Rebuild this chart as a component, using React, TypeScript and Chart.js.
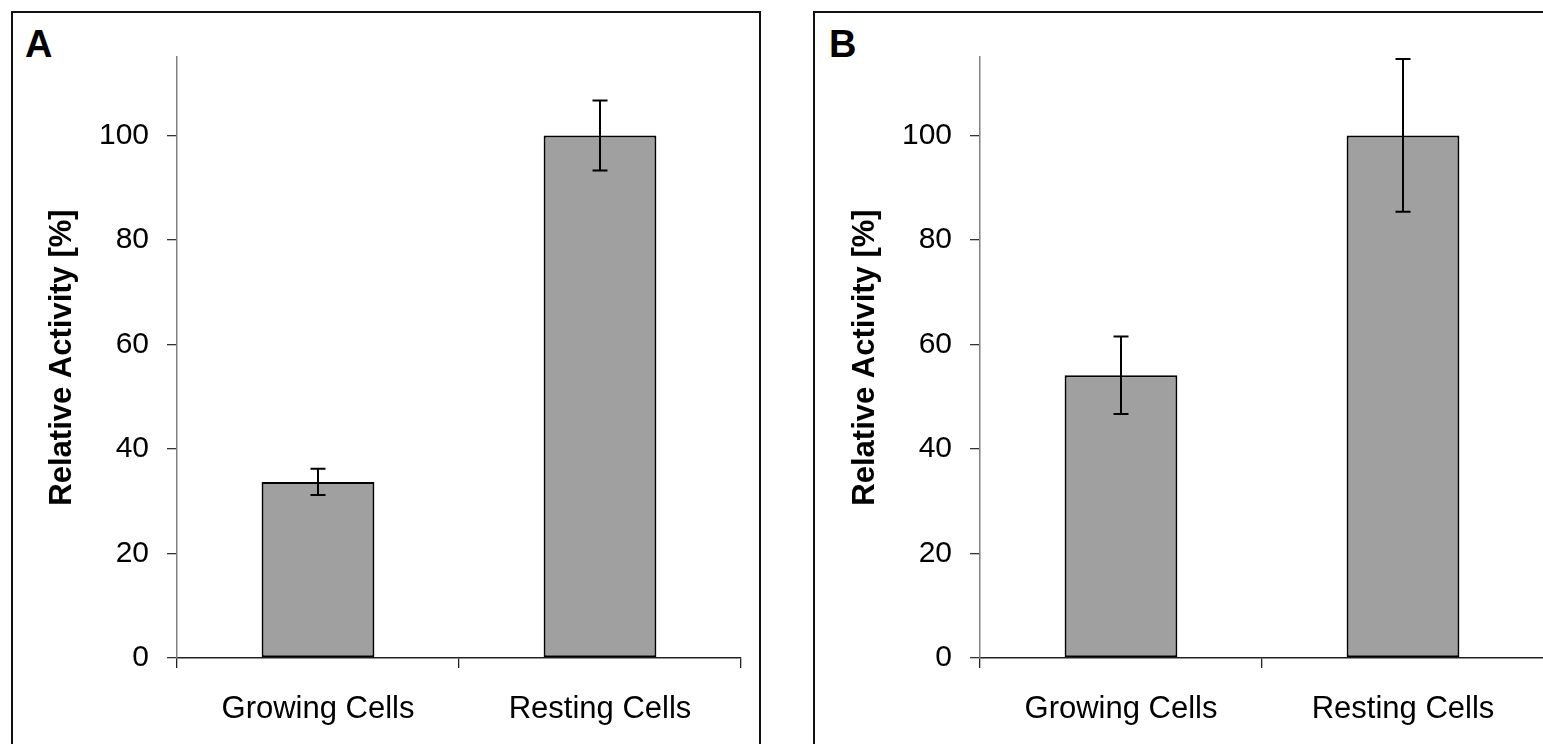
import React, { useEffect, useRef } from 'react';
import { Chart, registerables } from 'chart.js';

Chart.register(...registerables);

const categories = ['Growing Cells', 'Resting Cells'];
const activityA = [33.7, 100];
const errorA = [2.5, 6.7];
const activityB = [54.1, 100];
const errorB = [7.4, 14.6];
const yTickValues = [0, 20, 40, 60, 80, 100];
const yMax = 115;
const yTitle = 'Relative Activity [%]';

const FONT = '"Liberation Sans", Arial, Helvetica, sans-serif';

const errorBarPlugin = {
  id: 'errorBars',
  afterDatasetsDraw(chart: any, _args: any, opts: any) {
    const { ctx } = chart;
    const y = chart.scales.y;
    const meta = chart.getDatasetMeta(0);
    const data = chart.data.datasets[0].data as number[];
    const errs: number[] = opts.errors || [];
    ctx.save();
    ctx.strokeStyle = '#000';
    ctx.lineWidth = 2;
    meta.data.forEach((bar: any, i: number) => {
      const v = data[i];
      const e = errs[i];
      if (e == null) return;
      const x = bar.x;
      const top = y.getPixelForValue(v + e);
      const bot = y.getPixelForValue(v - e);
      ctx.beginPath();
      ctx.moveTo(x, top);
      ctx.lineTo(x, bot);
      ctx.moveTo(x - 7.5, top);
      ctx.lineTo(x + 7.5, top);
      ctx.moveTo(x - 7.5, bot);
      ctx.lineTo(x + 7.5, bot);
      ctx.stroke();
    });
    ctx.restore();
  },
};

const CW = 770;
const CH = 744;

function Panel({ left, values, errors }: { left: number; values: number[]; errors: number[] }) {
  const ref = useRef<HTMLCanvasElement | null>(null);
  useEffect(() => {
    if (!ref.current) return;
    const chart = new Chart(ref.current, {
      type: 'bar',
      data: {
        labels: categories,
        datasets: [
          {
            data: values,
            backgroundColor: '#a0a0a0',
            borderColor: '#000000',
            borderWidth: 2,
            borderSkipped: false,
            barPercentage: 0.4,
            categoryPercentage: 1,
          },
        ],
      },
      options: {
        responsive: false,
        animation: false,
        devicePixelRatio: 1,
        layout: { padding: { left: 0, top: 57, right: CW - 741, bottom: 0 } },
        plugins: {
          legend: { display: false },
          tooltip: { enabled: false },
          errorBars: { errors },
        } as any,
        scales: {
          x: {
            type: 'category',
            offset: true,
            afterFit: (s: any) => {
              s.height = CH - 658;
            },
            grid: {
              offset: true,
              drawOnChartArea: false,
              drawTicks: true,
              tickLength: 10,
              color: '#222222',
              lineWidth: 1.3,
            },
            border: { display: true, color: '#222222', width: 1.5 },
            ticks: {
              color: '#000000',
              padding: 23,
              maxRotation: 0,
              font: { family: FONT, size: 31 },
            },
          },
          y: {
            type: 'linear',
            min: 0,
            max: yMax,
            afterFit: (s: any) => {
              s.width = 177;
            },
            afterBuildTicks: (s: any) => {
              s.ticks = yTickValues.map((v) => ({ value: v }));
            },
            grid: {
              drawOnChartArea: false,
              drawTicks: true,
              tickLength: 10,
              color: '#333333',
              lineWidth: 1.3,
            },
            border: { display: true, color: '#808080', width: 1.5 },
            ticks: {
              color: '#000000',
              padding: 18,
              font: { family: FONT, size: 30 },
            },
            title: {
              display: true,
              text: yTitle,
              color: '#000000',
              font: { family: FONT, size: 31, weight: 'bold' },
              padding: { top: 44, bottom: 0 },
            },
          },
        },
      } as any,
      plugins: [errorBarPlugin as any],
    });
    return () => chart.destroy();
  }, []);
  return (
    <canvas
      ref={ref}
      width={CW}
      height={CH}
      style={{ position: 'absolute', left, top: 0, width: CW, height: CH }}
    />
  );
}

function Box({ left, width }: { left: number; width: number }) {
  return (
    <div
      style={{
        position: 'absolute',
        left,
        top: 11,
        width,
        height: 760,
        boxSizing: 'border-box',
        border: '2px solid #111111',
      }}
    />
  );
}

function Letter({ left, text }: { left: number; text: string }) {
  return (
    <div
      style={{
        position: 'absolute',
        left,
        top: 25,
        fontFamily: FONT,
        fontWeight: 'bold',
        fontSize: 38,
        lineHeight: 1,
        color: '#000',
      }}
    >
      {text}
    </div>
  );
}

export default function App() {
  return (
    <div
      style={{
        position: 'absolute',
        left: 0,
        top: 0,
        width: 1543,
        height: 744,
        overflow: 'hidden',
        background: '#ffffff',
      }}
    >
      <Box left={11} width={750} />
      <Box left={813} width={760} />
      <Letter left={25} text="A" />
      <Letter left={829} text="B" />
      <Panel left={0} values={activityA} errors={errorA} />
      <Panel left={803} values={activityB} errors={errorB} />
    </div>
  );
}
